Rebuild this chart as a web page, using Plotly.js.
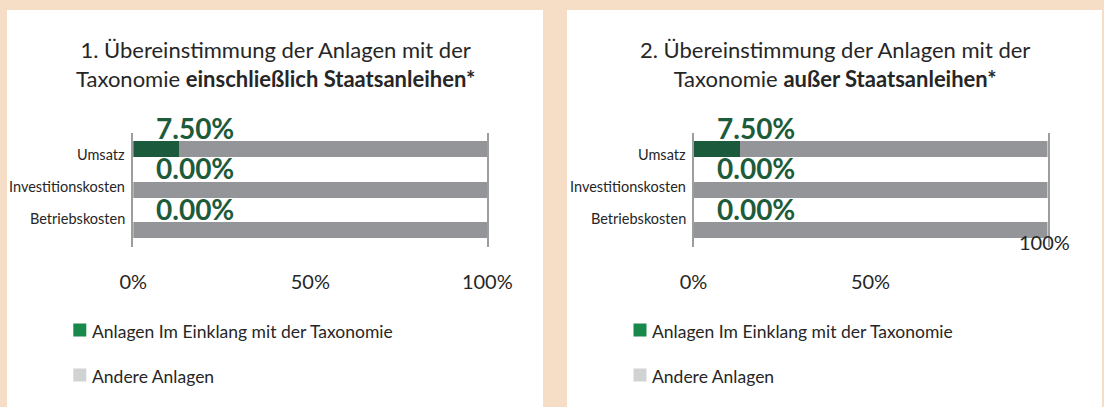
<!DOCTYPE html>
<html>
<head>
<meta charset="utf-8">
<script src="https://cdn.plot.ly/plotly-3.0.1.min.js"></script>
<style>html,body{margin:0;padding:0;background:#f6dec6;}#chart{width:1104px;height:407px;}</style>
</head>
<body>
<div id="chart"></div>
<script>
// ---- data ----
const categories = ["Umsatz", "Investitionskosten", "Betriebskosten"];
const alignedIncl = [13, 0, 0];        // bar length (%)
const otherIncl = [87, 100, 100];
const labelIncl = [7.5, 0, 0];         // printed values
const alignedExcl = [13, 0, 0];
const otherExcl = [87, 100, 100];
const labelExcl = [7.5, 0, 0];
const tickVals = [0, 50, 100];
const tickText = ["0%", "50%", "100%"];
const titles = [
  "1. Übereinstimmung der Anlagen mit der<br>Taxonomie <b>einschließlich Staatsanleihen*</b>",
  "2. Übereinstimmung der Anlagen mit der<br>Taxonomie <b>außer Staatsanleihen*</b>"
];
const legendNames = ["Anlagen Im Einklang mit der Taxonomie", "Andere Anlagen"];

// ---- style ----
const W = 1104, H = 407;
const FONT = "Lato, 'Open Sans', sans-serif";
const GREEN_BAR = "#1b5a3c", GRAY_BAR = "#939598";
const GREEN_LEG = "#17894a", GRAY_LEG = "#d1d2d4";
const LABEL_GREEN = "#1d5b3b", TEXT = "#262626";
const px = v => v / W, py = v => 1 - v / H;

const panels = [
  {left: 7, right: 543, x0: 133.3, x1: 487.3, xa: "x", ya: "y", al: alignedIncl, ot: otherIncl, lb: labelIncl, title: titles[0], ticks: tickVals},
  {left: 567, right: 1102, x0: 693.5, x1: 1047.5, xa: "x2", ya: "y2", al: alignedExcl, ot: otherExcl, lb: labelExcl, title: titles[1], ticks: tickVals.slice(0, 2)}
];

const data = [], annotations = [], shapes = [];
const layout = {
  width: W, height: H, margin: {l: 0, r: 0, t: 0, b: 0},
  paper_bgcolor: "#f6dec6", plot_bgcolor: "rgba(0,0,0,0)",
  barmode: "stack", showlegend: false,
  font: {family: FONT, color: TEXT}
};

panels.forEach((p, k) => {
  const sfx = k === 0 ? "" : "2";
  shapes.push({type: "rect", xref: "paper", yref: "paper", x0: px(p.left), x1: px(p.right), y0: 0, y1: py(10),
    fillcolor: "#ffffff", line: {width: 0}, layer: "below"});
  data.push({type: "bar", orientation: "h", y: categories, x: p.al, xaxis: p.xa, yaxis: p.ya,
    marker: {color: GREEN_BAR}, width: 0.4, name: legendNames[0], hoverinfo: "x+y"});
  data.push({type: "bar", orientation: "h", y: categories, x: p.ot, xaxis: p.xa, yaxis: p.ya,
    marker: {color: GRAY_BAR}, width: 0.4, name: legendNames[1], hoverinfo: "x+y"});
  layout["xaxis" + sfx] = {
    domain: [px(p.x0), px(p.x1)], range: [0, 100], anchor: p.ya,
    showgrid: false, zeroline: false, showline: false,
    tickvals: p.ticks, ticktext: tickText.slice(0, p.ticks.length),
    ticks: "", ticklabelstandoff: 21, tickfont: {size: 20, color: TEXT, family: FONT}
  };
  layout["yaxis" + sfx] = {
    domain: [py(247), py(132.7)], type: "category", categoryorder: "array", categoryarray: categories,
    range: [2.41, -0.41], anchor: p.xa, showticklabels: false, ticks: "",
    showgrid: false, zeroline: false, showline: true, mirror: true, linecolor: "#9d9d9d", linewidth: 2
  };
  // title
  annotations.push({xref: "paper", yref: "paper", x: px((p.left + p.right) / 2), y: py(64), xanchor: "center", yanchor: "middle",
    text: p.title, showarrow: false, font: {size: 22, color: TEXT, family: FONT}});
  categories.forEach((c, i) => {
    annotations.push({xref: p.xa, yref: p.ya, x: 0, y: 0.12 + i * 0.79, xanchor: "right", yanchor: "middle", xshift: -6,
      text: c, showarrow: false, font: {size: 14.5, color: TEXT, family: FONT}});
    annotations.push({xref: p.xa, yref: p.ya, x: 0, y: i, xanchor: "left", yanchor: "middle", xshift: 21, yshift: 21.5,
      text: "<b>" + p.lb[i].toFixed(2) + "%</b>", showarrow: false, font: {size: 28, color: LABEL_GREEN, family: FONT}});
  });
  if (k === 1) {
    annotations.push({xref: p.xa, yref: p.ya, x: tickVals[2], y: 2.28, xanchor: "center", yanchor: "middle", xshift: -3,
      text: tickText[2], showarrow: false, font: {size: 20, color: TEXT, family: FONT}});
  }
  // legend
  const off = p.x0 - 133.3;
  [[GREEN_LEG, 323.5, legendNames[0]], [GRAY_LEG, 368.5, legendNames[1]]].forEach(([col, top, name]) => {
    shapes.push({type: "rect", xref: "paper", yref: "paper", x0: px(73.3 + off), x1: px(86.3 + off), y0: py(top + 13), y1: py(top),
      fillcolor: col, line: {width: 0}});
    annotations.push({xref: "paper", yref: "paper", x: px(90 + off), y: py(top + 7.5), xanchor: "left", yanchor: "middle",
      text: name, showarrow: false, font: {size: 17.5, color: TEXT, family: FONT}});
  });
});
layout.shapes = shapes;
layout.annotations = annotations;
Plotly.newPlot("chart", data, layout, {displayModeBar: false, staticPlot: true});
</script>
</body>
</html>
